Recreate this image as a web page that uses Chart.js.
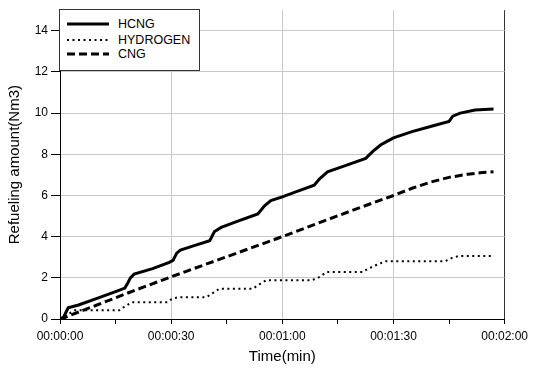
<!DOCTYPE html>
<html>
<head>
<meta charset="utf-8">
<title>Refueling amount</title>
<script src="https://cdn.jsdelivr.net/npm/chart.js@4"></script>
<style>
    body { margin: 0; background: #fff; }
    #wrap { position: relative; width: 533px; height: 371px; }
    #chart { position: absolute; left: 0; top: 0; }
    #legend {
        position: absolute; left: 59px; top: 9px; width: 141px; height: 62px;
        box-sizing: border-box; border: 1px solid #333; background: #fff;
        font-family: Arial, "Liberation Sans", sans-serif; font-size: 12.5px; color: #000;
    }
    .row { position: absolute; left: 0; height: 14px; display: flex; align-items: center; }
    .row svg { margin-left: 7px; }
    .row span { margin-left: 9px; }
</style>
</head>
<body>
<div id="wrap">
    <canvas id="chart" width="533" height="371"></canvas>
    <div id="legend"></div>
</div>
<script>
// values (time in seconds, amount in Nm3)
const seriesNames = ['HCNG', 'HYDROGEN', 'CNG'];

const hcngTime = [0, 1, 2.2, 5, 10, 15, 17.5, 18.3, 19, 20, 25, 29.5, 30.5, 31.5, 32.5, 36, 40.4, 41.7, 43.5, 48,
    53.4, 55.2, 56.9, 60, 64, 68.6, 70, 72.2, 77, 82.5, 84.5, 86.5, 88.5, 90, 95, 100, 105, 106, 108, 112, 117];
const hcngAmount = [0, 0.1, 0.54, 0.68, 1.0, 1.33, 1.5, 1.75, 2.0, 2.18, 2.45, 2.75, 2.85, 3.2, 3.35, 3.55, 3.8, 4.25, 4.45, 4.75,
    5.1, 5.5, 5.75, 5.93, 6.2, 6.5, 6.8, 7.15, 7.45, 7.8, 8.15, 8.45, 8.65, 8.8, 9.1, 9.35, 9.6, 9.85, 10.0, 10.15, 10.2];

const hydrogenTime = [0, 1, 3, 4, 16, 17, 18, 19.3, 29, 30, 31.8, 39.5, 41.3, 43, 52, 53.8, 55.6, 67.7, 69.5, 71.3, 72,
    81.6, 82.9, 85.2, 87.9, 104, 105.4, 107.6, 116.6];
const hydrogenAmount = [0, 0.1, 0.32, 0.42, 0.42, 0.55, 0.66, 0.81, 0.81, 0.95, 1.06, 1.06, 1.27, 1.47, 1.47, 1.68, 1.88, 1.88, 1.98, 2.2, 2.28,
    2.28, 2.42, 2.61, 2.81, 2.81, 2.94, 3.06, 3.06];

const cngTime = [0, 1, 3, 10, 20, 30, 40, 50, 60, 70, 80, 90, 95, 100, 105, 110, 114, 117];
const cngAmount = [0, 0.05, 0.2, 0.68, 1.38, 2.05, 2.7, 3.35, 4.0, 4.68, 5.35, 6.0, 6.35, 6.65, 6.88, 7.03, 7.12, 7.15];

const timeTickLabels = ['00:00:00', '00:00:30', '00:01:00', '00:01:30', '00:02:00'];

const FONT = 'Arial, "Liberation Sans", sans-serif';

class RefuelingChart {
    constructor() {
        this.styles = {
            HCNG: { width: 3, dash: [] },
            HYDROGEN: { width: 2, dash: [2, 3.5] },
            CNG: { width: 3, dash: [8, 4] }
        };
        this.renderLegend();
        this.renderChart();
    }

    points(times, amounts) {
        return times.map((t, i) => ({ x: t, y: amounts[i] }));
    }

    buildDatasets() {
        const sources = [[hcngTime, hcngAmount], [hydrogenTime, hydrogenAmount], [cngTime, cngAmount]];
        return seriesNames.map((name, i) => ({
            label: name,
            data: this.points(sources[i][0], sources[i][1]),
            borderColor: '#000',
            borderWidth: this.styles[name].width,
            borderDash: this.styles[name].dash,
            pointRadius: 0,
            tension: 0,
            fill: false
        }));
    }

    renderLegend() {
        const legend = document.getElementById('legend');
        const centers = [24, 39.5, 54];
        legend.innerHTML = seriesNames.map((name, i) => {
            const s = this.styles[name];
            return `
                <div class="row" style="top:${centers[i] - 17}px">
                    <svg width="42" height="6"><line x1="0" y1="3" x2="42" y2="3" stroke="#000"
                        stroke-width="${s.width}" stroke-dasharray="${s.dash.join(' ')}"/></svg>
                    <span>${name}</span>
                </div>`;
        }).join('');
    }

    renderChart() {
        Chart.defaults.font.family = FONT;
        const ctx = document.getElementById('chart');
        new Chart(ctx, {
            type: 'line',
            data: { datasets: this.buildDatasets() },
            options: {
                responsive: false,
                animation: false,
                layout: { padding: { top: 9, right: 27, left: 0, bottom: 0 } },
                plugins: { legend: { display: false }, tooltip: { enabled: false } },
                scales: {
                    x: {
                        type: 'linear',
                        min: 0,
                        max: 120,
                        afterFit: s => { s.height = 52; },
                        border: { color: '#000', width: 1 },
                        grid: {
                            color: c => {
                                const v = c.tick ? c.tick.value : -1;
                                if (v === 120) return '#333';
                                if (v > 0 && v % 30 === 0) return '#c8c8c8';
                                return 'rgba(0,0,0,0)';
                            },
                            tickColor: '#000',
                            tickLength: 5
                        },
                        ticks: {
                            stepSize: 15,
                            autoSkip: false,
                            maxRotation: 0,
                            padding: 5,
                            color: '#000',
                            font: { size: 12 },
                            callback: v => (v % 30 === 0 ? timeTickLabels[v / 30] : '')
                        },
                        title: {
                            display: true,
                            text: 'Time(min)',
                            color: '#000',
                            font: { size: 15 },
                            padding: { top: 0, bottom: 5 }
                        }
                    },
                    y: {
                        min: 0,
                        max: 15,
                        afterFit: s => { s.width = 60; },
                        border: { color: '#000', width: 1 },
                        grid: {
                            color: c => (c.tick && c.tick.value === 0 ? 'rgba(0,0,0,0)' : '#c8c8c8'),
                            tickColor: '#000',
                            tickLength: 9
                        },
                        ticks: {
                            stepSize: 2,
                            includeBounds: false,
                            padding: 3,
                            color: '#000',
                            font: { size: 12 }
                        },
                        title: {
                            display: true,
                            text: 'Refueling amount(Nm3)',
                            color: '#000',
                            font: { size: 15 },
                            padding: { top: 6, bottom: 0 }
                        }
                    }
                }
            }
        });
    }
}

document.addEventListener('DOMContentLoaded', () => {
    new RefuelingChart();
});
</script>
</body>
</html>
